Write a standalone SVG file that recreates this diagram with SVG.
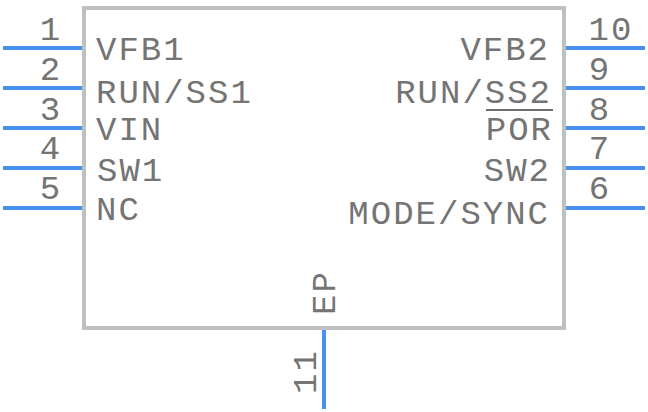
<svg xmlns="http://www.w3.org/2000/svg" width="648" height="412" viewBox="0 0 648 412">
<style>
.b{fill:none;stroke:#c0c0c0;stroke-width:4}
.p{stroke:#4a90f0;stroke-width:4;fill:none}
.o{stroke:#6e6e6e;stroke-width:2;fill:none}
text{font-family:"Liberation Mono",monospace;font-size:34px;letter-spacing:2px;fill:#747474}
.e{text-anchor:end}
.m{text-anchor:middle}
</style>
<rect width="648" height="412" fill="#fff"/>
<g id="body"><rect class="b" x="84" y="8" width="480" height="320"/></g>
<g id="connectors">
<path class="p" d="M3 48H82M3 88H82M3 128H82M3 168H82M3 208H82M566 48H645M566 88H645M566 128H645M566 168H645M566 208H645M324 330V409"/>
<path class="o" d="M486 110H553"/>
</g>
<g id="pin1"><text class="m" x="51" y="40">1</text><text x="96" y="60">VFB1</text></g>
<g id="pin2"><text class="m" x="51" y="80">2</text><text x="96" y="103">RUN/SS1</text></g>
<g id="pin3"><text class="m" x="51" y="120">3</text><text x="96" y="140">VIN</text></g>
<g id="pin4"><text class="m" x="51" y="159">4</text><text x="97" y="181">SW1</text></g>
<g id="pin5"><text class="m" x="51" y="199">5</text><text x="96" y="220">NC</text></g>
<g id="pin10"><text class="m" x="611" y="40">10</text><text class="e" x="550" y="60">VFB2</text></g>
<g id="pin9"><text class="m" x="600" y="80">9</text><text class="e" x="552" y="103">RUN/SS2</text></g>
<g id="pin8"><text class="m" x="600" y="120">8</text><text class="e" x="553" y="140">POR</text></g>
<g id="pin7"><text class="m" x="600" y="159">7</text><text class="e" x="551" y="181">SW2</text></g>
<g id="pin6"><text class="m" x="600" y="199">6</text><text class="e" x="550" y="224">MODE/SYNC</text></g>
<g id="pin11"><text transform="translate(335 315) rotate(-90)">EP</text><text transform="translate(316 394) rotate(-90)">11</text></g>
</svg>
